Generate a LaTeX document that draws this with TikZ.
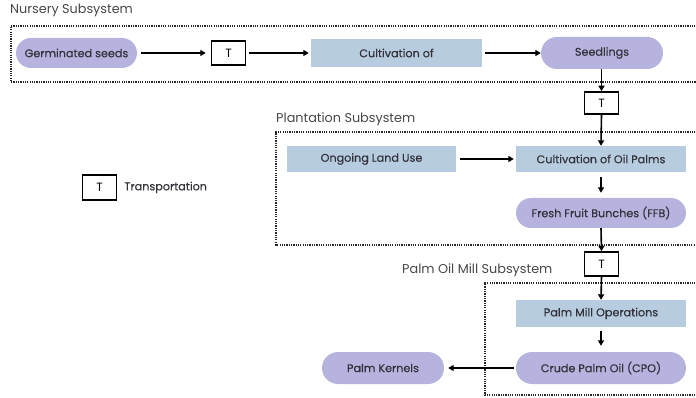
\documentclass[tikz,border=0pt]{standalone}
\usepackage{fontspec}
\setmainfont{Poppins}
\newfontfamily\nodefont[FakeBold=0.25]{Poppins}
\usetikzlibrary{arrows.meta}
\definecolor{pill}{RGB}{182,179,223}
\definecolor{rectc}{RGB}{184,204,223}
\definecolor{txt}{RGB}{50,50,58}
\begin{document}
\begin{tikzpicture}[x=1pt,y=-1pt,
  every node/.style={font=\nodefont\fontsize{11.2}{13}\selectfont, text=txt},
  rectbox/.style={fill=rectc, draw=none, inner sep=0pt},
  pillbox/.style={fill=pill, draw=none, inner sep=0pt, rounded corners=15pt},
  tbox/.style={draw=black, line width=1.5pt, fill=white, minimum width=34pt, minimum height=24pt, inner sep=0pt, font=\fontsize{12}{14}\selectfont, text=black},
  arr/.style={line width=1.6pt, -{Triangle[length=5.5pt,width=6pt]}},
  dotbox/.style={line width=1.7pt, dash pattern=on 1.2pt off 1.1pt, draw=black!85},
  lbl/.style={anchor=west, font=\fontsize{12.8}{15}\selectfont, text=black!72, inner sep=0pt}]
\useasboundingbox (0,0) rectangle (696,398);
% subsystem frames
\draw[dotbox] (700,26) -- (11,26) -- (11,82) -- (700,82);
\draw[dotbox] (700,132) -- (276,132) -- (276,245) -- (700,245);
\draw[dotbox] (700,283) -- (485,283) -- (485,395) -- (700,395);
\node[lbl] (lnur) at (10,10) {Nursery Subsystem};
\node[lbl] (lpla) at (276,119) {Plantation Subsystem};
\node[lbl] (lmil) at (402,270) {Palm Oil Mill Subsystem};
% nursery
\node[pillbox, minimum width=121pt, minimum height=30pt] (germ) at (76.5,53) {Germinated seeds};
\node[tbox] (t1) at (228.5,53) {T};
\node[rectbox, minimum width=171pt, minimum height=28pt] (cult) at (396.5,53) {Cultivation of};
\node[pillbox, minimum width=122pt, minimum height=32pt, rounded corners=16pt] (seed) at (602,53) {Seedlings};
\draw[arr] ([xshift=4pt]germ.east) -- ([xshift=-5pt]t1.west);
\draw[arr] ([xshift=3pt]t1.east) -- ([xshift=-2pt]cult.west);
\draw[arr] ([xshift=3pt]cult.east) -- (seed.west);
\node[tbox, minimum height=22pt] (t2) at (601.5,103) {T};
\draw[arr] (seed.south -| t2) -- (t2.north);
% plantation
\node[rectbox, minimum width=169pt, minimum height=26pt] (land) at (371.5,159) {Ongoing Land Use};
\node[rectbox, minimum width=170pt, minimum height=26pt] (cop) at (601,159) {Cultivation of Oil Palms};
\node[pillbox, minimum width=170pt, minimum height=30pt] (ffb) at (601,213) {Fresh Fruit Bunches (FFB)};
\draw[arr] (t2.south) -- (cop.north);
\draw[arr] ([xshift=4pt]land.east) -- ([xshift=-2pt]cop.west);
\draw[arr] ([yshift=-5pt]cop.south) -- ([yshift=5pt]ffb.north);
\node[tbox, minimum height=24pt] (t3) at (601.5,264) {T};
\draw[arr] (ffb.south) -- (t3.north);
% mill
\node[rectbox, minimum width=170pt, minimum height=27pt] (pmo) at (601,313.5) {Palm Mill Operations};
\node[pillbox, minimum width=170pt, minimum height=32pt, rounded corners=16pt] (cpo) at (601,368) {Crude Palm Oil (CPO)};
\node[pillbox, minimum width=122pt, minimum height=32pt, rounded corners=16pt] (pk) at (383,368) {Palm Kernels};
\draw[arr] (t3.south) -- (pmo.north);
\draw[arr] ([yshift=-4pt]pmo.south) -- ([yshift=6pt]cpo.north);
\draw[arr] ([xshift=-2pt]cpo.west) -- ([xshift=4pt]pk.east);
% legend
\node[tbox, minimum height=25pt] (tl) at (99.5,187.5) {T};
\node[anchor=west, inner sep=0pt] (tlt) at ([xshift=7pt]tl.east) {Transportation};
\end{tikzpicture}
\end{document}
